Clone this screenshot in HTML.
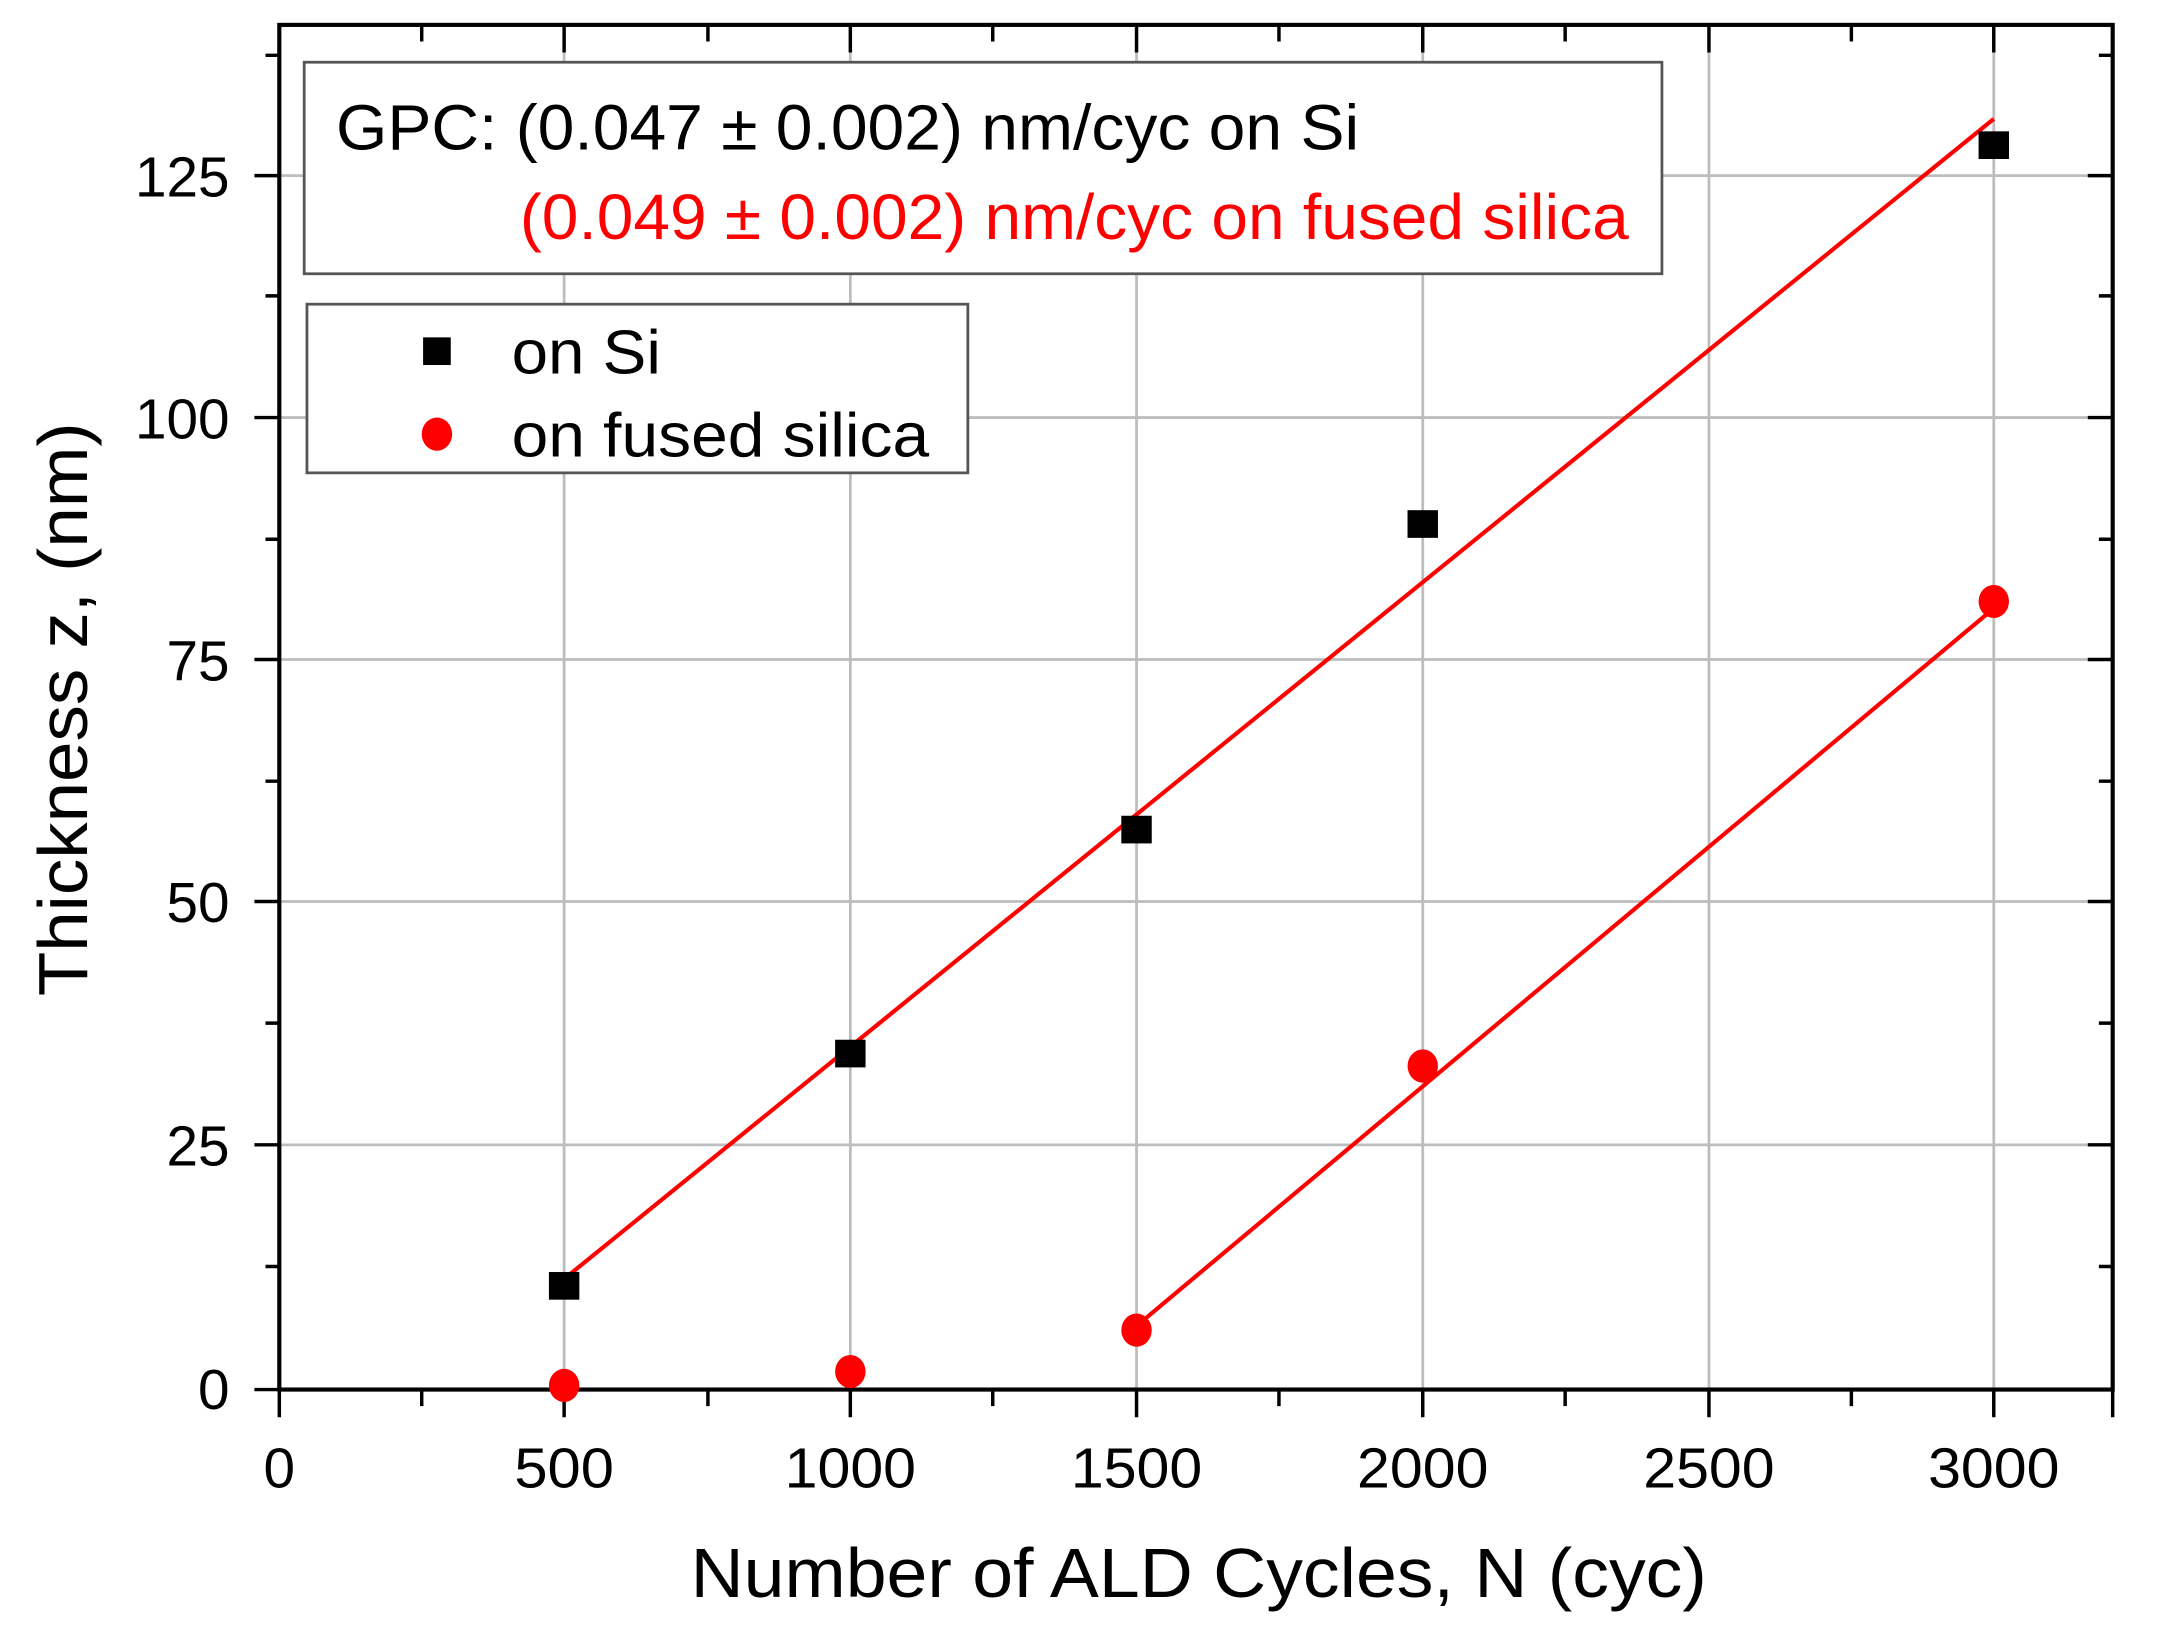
<!DOCTYPE html>
<html><head><meta charset="utf-8"><style>
html,body{margin:0;padding:0;background:#fff}
svg{display:block}
text{font-family:"Liberation Sans",Arial,sans-serif}
</style></head><body>
<svg width="2168" height="1634" viewBox="0 0 1568 1181.8" xmlns="http://www.w3.org/2000/svg">
<rect width="1568" height="1182" fill="#fff"/>
<g stroke="#bdbdbd" stroke-width="2">
<line x1="408" y1="18" x2="408" y2="1005"/>
<line x1="615" y1="18" x2="615" y2="1005"/>
<line x1="822" y1="18" x2="822" y2="1005"/>
<line x1="1029" y1="18" x2="1029" y2="1005"/>
<line x1="1236" y1="18" x2="1236" y2="1005"/>
<line x1="1442" y1="18" x2="1442" y2="1005"/>
<line x1="202" y1="828" x2="1528" y2="828"/>
<line x1="202" y1="652" x2="1528" y2="652"/>
<line x1="202" y1="477" x2="1528" y2="477"/>
<line x1="202" y1="302" x2="1528" y2="302"/>
<line x1="202" y1="127" x2="1528" y2="127"/>
</g>
<g stroke="#000" stroke-width="2.5">
<path d="M202 1005v20M408 1005v20M615 1005v20M822 1005v20M1029 1005v20M1236 1005v20M1442 1005v20M305 1005v12M512 1005v12M718 1005v12M925 1005v12M1132 1005v12M1339 1005v12M1528 1005v20"/>
<path d="M408 18v20M615 18v20M822 18v20M1029 18v20M1236 18v20M1442 18v20M305 18v12M512 18v12M718 18v12M925 18v12M1132 18v12M1339 18v12"/>
<path d="M202 1005h-18M202 828h-18M202 652h-18M202 477h-18M202 302h-18M202 127h-18M202 916h-10M202 740h-10M202 565h-10M202 390h-10M202 214h-10M202 40h-10"/>
<path d="M1528 1005h-18M1528 828h-18M1528 652h-18M1528 477h-18M1528 302h-18M1528 127h-18M1528 916h-10M1528 740h-10M1528 565h-10M1528 390h-10M1528 214h-10M1528 40h-10"/>
</g>
<rect x="202" y="18" width="1326" height="987" fill="none" stroke="#000" stroke-width="3"/>
<line x1="408" y1="925" x2="1442" y2="86" stroke="#f00" stroke-width="3"/>
<line x1="822" y1="959" x2="1442" y2="440" stroke="#f00" stroke-width="3"/>
<g fill="#000">
<rect x="397" y="920" width="22" height="20"/>
<rect x="604" y="752" width="22" height="20"/>
<rect x="811" y="590" width="22" height="20"/>
<rect x="1018" y="369" width="22" height="20"/>
<rect x="1431" y="95" width="22" height="20"/>
</g>
<g fill="#f00">
<ellipse cx="408" cy="1002" rx="11" ry="12"/>
<ellipse cx="615" cy="992" rx="11" ry="12"/>
<ellipse cx="822" cy="962" rx="11" ry="12"/>
<ellipse cx="1029" cy="771" rx="11" ry="12"/>
<ellipse cx="1442" cy="435" rx="11" ry="12"/>
</g>
<rect x="220" y="45" width="982" height="153" fill="#fff" stroke="#555" stroke-width="2"/>
<text x="243" y="108" font-size="46" textLength="740" lengthAdjust="spacingAndGlyphs" fill="#000">GPC: (0.047 ± 0.002) nm/cyc on Si</text>
<text x="376" y="173" font-size="46" textLength="802" lengthAdjust="spacingAndGlyphs" fill="#f00">(0.049 ± 0.002) nm/cyc on fused silica</text>
<rect x="222" y="220" width="478" height="122" fill="#fff" stroke="#555" stroke-width="2"/>
<rect x="306" y="244" width="20" height="20" fill="#000"/>
<text x="370" y="270" font-size="45" textLength="108" lengthAdjust="spacingAndGlyphs">on Si</text>
<ellipse cx="316" cy="314" rx="11" ry="12" fill="#f00"/>
<text x="370" y="330" font-size="45" textLength="302" lengthAdjust="spacingAndGlyphs">on fused silica</text>
<g font-size="41" text-anchor="middle">
<text x="202" y="1076">0</text>
<text x="408" y="1076" textLength="72" lengthAdjust="spacingAndGlyphs">500</text>
<text x="615" y="1076" textLength="95" lengthAdjust="spacingAndGlyphs">1000</text>
<text x="822" y="1076" textLength="95" lengthAdjust="spacingAndGlyphs">1500</text>
<text x="1029" y="1076" textLength="95" lengthAdjust="spacingAndGlyphs">2000</text>
<text x="1236" y="1076" textLength="95" lengthAdjust="spacingAndGlyphs">2500</text>
<text x="1442" y="1076" textLength="95" lengthAdjust="spacingAndGlyphs">3000</text>
</g>
<g font-size="41" text-anchor="end">
<text x="166" y="1019">0</text>
<text x="166" y="843">25</text>
<text x="166" y="667">50</text>
<text x="166" y="492">75</text>
<text x="166" y="317">100</text>
<text x="166" y="142">125</text>
</g>
<text x="867" y="1155" font-size="50" text-anchor="middle" textLength="735" lengthAdjust="spacingAndGlyphs">Number of ALD Cycles, N (cyc)</text>
<text transform="translate(63,513) rotate(-90)" font-size="50" text-anchor="middle" textLength="415" lengthAdjust="spacingAndGlyphs">Thickness z, (nm)</text>
</svg>
</body></html>
